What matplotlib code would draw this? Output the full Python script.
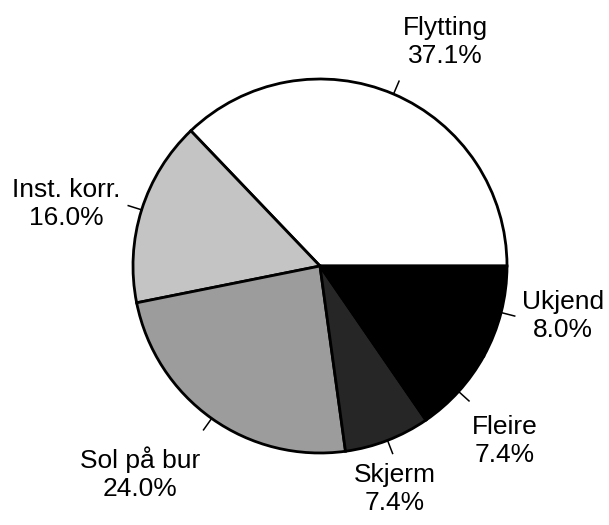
import numpy as np
import matplotlib
matplotlib.use("Agg")
import matplotlib.pyplot as plt

plt.rcParams['font.family'] = ['Liberation Sans', 'DejaVu Sans']

labels = ['Flytting', 'Inst. korr.', 'Sol på bur', 'Skjerm', 'Fleire', 'Ukjend']
shares = [37.1, 16.0, 24.0, 7.4, 7.4, 8.0]
colors = ['white', '#c4c4c4', '#9c9c9c', '#262626', 'black', 'black']

# label block centres in image pixels (x from left, y from top)
label_pos = [(445, 42), (66, 204), (140, 474), (395, 489), (505, 441), (563, 316)]

# pie centre and radius in pixels
cx, cy, rad = 320, 266, 187
W, H = 609, 525

fig = plt.figure(figsize=(W / 100, H / 100), dpi=100)
ax = fig.add_axes([0, 0, 1, 1])

wedges, _ = ax.pie(shares, colors=colors, startangle=0, counterclock=True,
                   radius=1.0,
                   wedgeprops=dict(edgecolor='black', linewidth=2))

ax.set_xlim(-cx / rad, (W - cx) / rad)
ax.set_ylim(-(H - cy) / rad, cy / rad)
ax.set_aspect('equal')
ax.axis('off')

for w, lab, val, (px, py) in zip(wedges, labels, shares, label_pos):
    mid = np.deg2rad((w.theta1 + w.theta2) / 2)
    ax.plot([np.cos(mid), 1.075 * np.cos(mid)],
            [np.sin(mid), 1.075 * np.sin(mid)], color='black', lw=1.1)
    ax.text((px - cx) / rad, (cy - py) / rad, f"{lab}\n{val:.1f}%",
            ha='center', va='center', fontsize=19, linespacing=1.22)

fig.savefig('out.png', dpi=100)
